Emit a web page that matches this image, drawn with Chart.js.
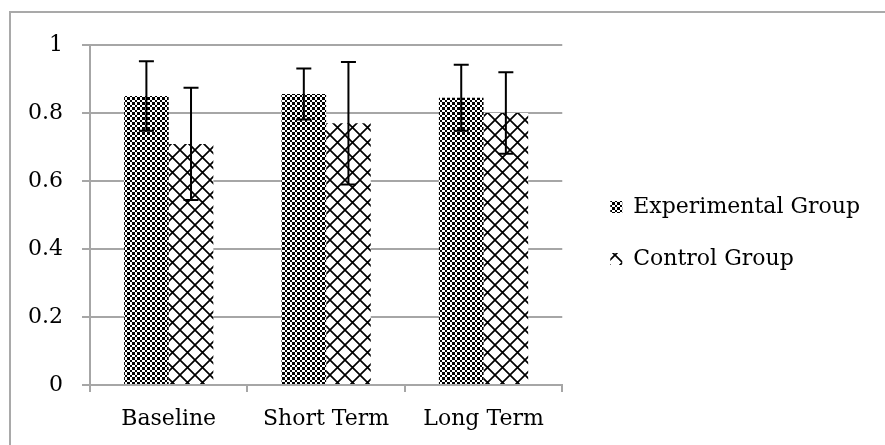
<!DOCTYPE html>
<html><head><meta charset="utf-8">
<script src="https://cdn.jsdelivr.net/npm/chart.js@4/dist/chart.umd.min.js"></script>
<style>
html,body{margin:0;padding:0;background:#fff;overflow:hidden}
#wrap{position:relative;width:885px;height:445px}
#frame{position:absolute;left:9px;top:11px;width:1000px;height:1000px;border-left:2px solid #a9a9a9;border-top:2px solid #a9a9a9;box-sizing:border-box}
canvas{position:absolute;left:0;top:0}
</style></head><body>
<div id="wrap"><div id="frame"></div><canvas id="c" width="885" height="445"></canvas></div>
<script>
const categories = ['Baseline', 'Short Term', 'Long Term'];
const seriesNames = ['Experimental Group', 'Control Group'];
const experimental = [0.85, 0.856, 0.845];
const experimentalErr = [0.102, 0.075, 0.097];
const control = [0.709, 0.77, 0.80];
const controlErr = [0.165, 0.18, 0.12];
const yTickLabels = ['0', '0.2', '0.4', '0.6', '0.8', '1'];

function checkerPattern() {
  const c = document.createElement('canvas'); c.width = 10; c.height = 10;
  const x = c.getContext('2d');
  x.fillStyle = '#fff'; x.fillRect(0, 0, 10, 10);
  x.fillStyle = '#000';
  const e = [0, 2, 5, 7, 10];
  for (let i = 0; i < 4; i++) for (let j = 0; j < 4; j++)
    if ((i + j) % 2 === 0) x.fillRect(e[i], e[j], e[i + 1] - e[i], e[j + 1] - e[j]);
  return x.createPattern(c, 'repeat');
}
function crossPattern() {
  const s = 15;
  const c = document.createElement('canvas'); c.width = s; c.height = s;
  const x = c.getContext('2d');
  x.fillStyle = '#fff'; x.fillRect(0, 0, s, s);
  x.strokeStyle = '#000'; x.lineWidth = 1.7;
  x.beginPath();
  for (const d of [-s, 0, s]) {
    x.moveTo(d, 0); x.lineTo(d + s, s);
    x.moveTo(d + s, 0); x.lineTo(d, s);
  }
  x.stroke();
  return x.createPattern(c, 'repeat');
}

const GRID = '#a6a6a6';
const FONT = {family: "'DejaVu Serif'", size: 22};
Chart.defaults.font.family = FONT.family;
Chart.defaults.font.size = FONT.size;
Chart.defaults.color = '#000';

const errorBars = {
  id: 'errorBars',
  afterDatasetsDraw(chart) {
    const ctx = chart.ctx, y = chart.scales.y;
    const errs = [experimentalErr, controlErr];
    chart.data.datasets.forEach((ds, di) => {
      const meta = chart.getDatasetMeta(di);
      meta.data.forEach((bar, i) => {
        const v = ds.data[i], e = errs[di][i];
        const top = y.getPixelForValue(v + e), bot = y.getPixelForValue(v - e);
        ctx.save();
        ctx.strokeStyle = '#000'; ctx.lineWidth = 2;
        ctx.beginPath();
        ctx.moveTo(bar.x, top); ctx.lineTo(bar.x, bot);
        ctx.moveTo(bar.x - 7.5, top); ctx.lineTo(bar.x + 7.5, top);
        ctx.moveTo(bar.x - 7.5, bot); ctx.lineTo(bar.x + 7.5, bot);
        ctx.stroke();
        ctx.restore();
      });
    });
  }
};
const legendShift = {
  id: 'legendShift',
  afterLayout(chart) {
    const lg = chart.legend;
    if (lg) { lg.left += 18; lg.right += 18; lg.top -= 12; lg.bottom -= 12; }
  }
};

new Chart(document.getElementById('c'), {
  type: 'bar',
  data: {
    labels: categories,
    datasets: [
      {label: seriesNames[0], data: experimental, backgroundColor: checkerPattern(), borderWidth: 0},
      {label: seriesNames[1], data: control, backgroundColor: crossPattern(), borderWidth: 0}
    ]
  },
  options: {
    responsive: false,
    animation: false,
    layout: {padding: {left: 0, top: 45, right: 33, bottom: 0}},
    datasets: {bar: {categoryPercentage: 0.567, barPercentage: 1}},
    plugins: {
      tooltip: {enabled: false},
      legend: {
        position: 'right',
        align: 'center',
        maxWidth: 400,
        labels: {boxWidth: 12, boxHeight: 12, padding: 30, font: FONT, color: '#000'}
      }
    },
    scales: {
      x: {
        grid: {offset: true, drawOnChartArea: false, drawTicks: true, tickLength: 7, color: GRID, lineWidth: 2},
        border: {color: GRID, width: 2},
        ticks: {padding: 14, font: FONT, color: '#000', maxRotation: 0},
        afterFit(s) { s.height = 60; }
      },
      y: {
        min: 0, max: 1,
        grid: {color: GRID, lineWidth: 2, tickLength: 8, drawTicks: true},
        border: {color: GRID, width: 2},
        ticks: {stepSize: 0.2, padding: 19, font: FONT, color: '#000',
          callback: (v, i) => yTickLabels[i]},
        afterFit(s) { s.width = 90; }
      }
    }
  },
  plugins: [errorBars, legendShift]
});
</script>
</body></html>
